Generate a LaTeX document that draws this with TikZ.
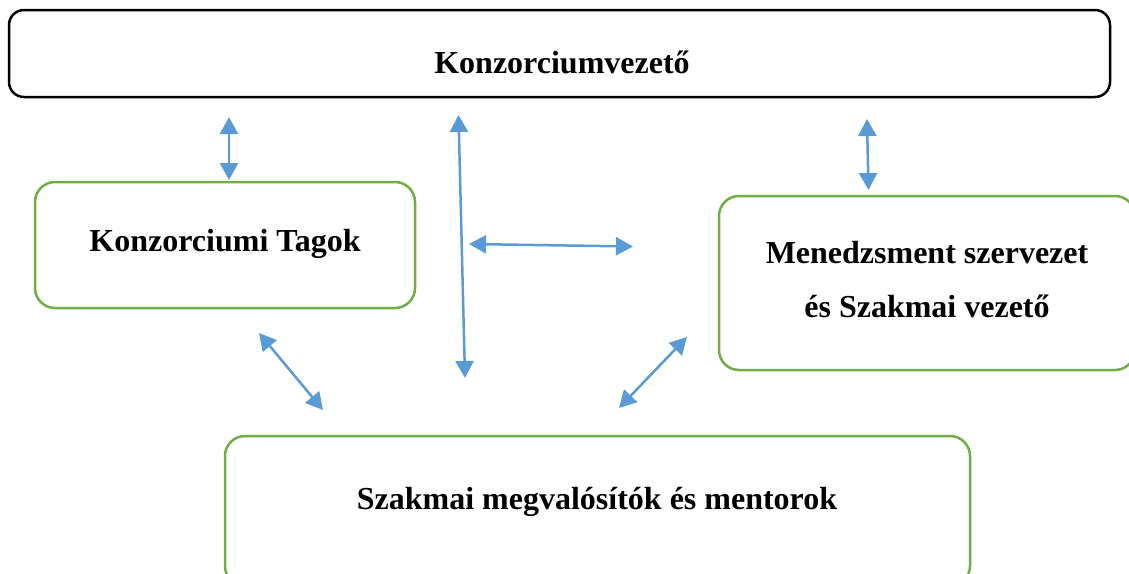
\documentclass[tikz,border=0pt]{standalone}
\usepackage{fontspec}
\setmainfont{Liberation Serif}
\usetikzlibrary{arrows.meta}
\definecolor{boxgreen}{HTML}{70AD47}
\definecolor{arrowblue}{HTML}{5B9BD5}
\tikzset{
  topbox/.style={draw=black, line width=2.5pt, rounded corners=15pt, inner sep=0pt},
  greenbox/.style={draw=boxgreen, line width=2.5pt, rounded corners=20pt, inner sep=0pt, align=center},
  lbl/.style={font=\fontsize{32}{54}\selectfont\bfseries, inner sep=0pt, align=center},
  link/.style={draw=arrowblue, line width=2.5pt, {Triangle[length=17pt,width=18pt]}-{Triangle[length=17pt,width=18pt]}}
}
\begin{document}
\begin{tikzpicture}[x=1pt,y=-1pt]
\useasboundingbox (0,0) rectangle (1129,573);
% boxes
\node[topbox, minimum width=1101pt, minimum height=87pt] (lead) at (559.5,53.5) {};
\node[lbl] (leadtxt) at (562,62) {Konzorciumvezető};
\node[greenbox, minimum width=380pt, minimum height=126pt] (members) at (225,245) {};
\node[lbl] (memberstxt) at (225,244) {Konzorciumi Tagok};
\node[greenbox, minimum width=416pt, minimum height=174pt] (mgmt) at (927,283) {};
\node[lbl] (mgmttxt) at (927,280) {Menedzsment szervezet\\és Szakmai vezető};
\node[greenbox, minimum width=745pt, minimum height=150pt] (impl) at (597.5,511) {};
\node[lbl] (impltxt) at (597,502) {Szakmai megvalósítók és mentorok};
% arrow end points
\coordinate (a1s) at (229,117);
\coordinate (a1e) at (229,180);
\coordinate (a2s) at (458.5,115);
\coordinate (a2e) at (465,378);
\coordinate (a3s) at (469,244);
\coordinate (a3e) at (633,246.5);
\coordinate (a4s) at (867,119);
\coordinate (a4e) at (868.5,190);
\coordinate (a5s) at (259,333);
\coordinate (a5e) at (323,410);
\coordinate (a6s) at (619,408);
\coordinate (a6e) at (687,337);
% arrows
\draw[link] (a1s) -- (a1e);
\draw[link] (a2s) -- (a2e);
\draw[link] (a3s) -- (a3e);
\draw[link] (a4s) -- (a4e);
\draw[link] (a5s) -- (a5e);
\draw[link] (a6s) -- (a6e);
\end{tikzpicture}
\end{document}
